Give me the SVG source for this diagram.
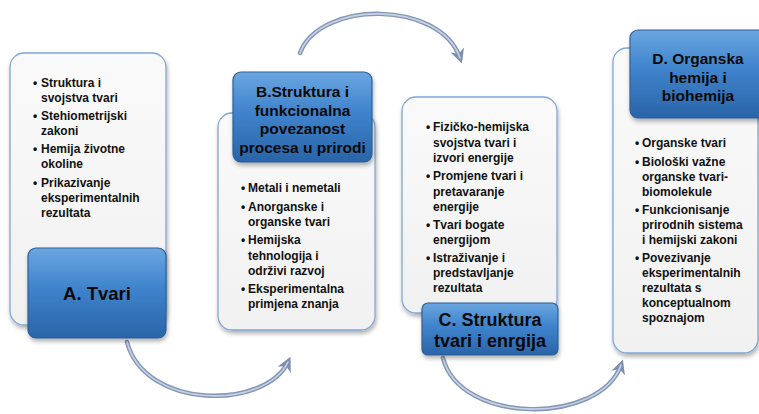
<svg xmlns="http://www.w3.org/2000/svg" width="759" height="414" viewBox="0 0 759 414">
<defs>
<linearGradient id="blue" x1="0" y1="0" x2="0" y2="1">
<stop offset="0" stop-color="#6aa6e0"/>
<stop offset="0.45" stop-color="#3f83cc"/>
<stop offset="1" stop-color="#2a64a8"/>
</linearGradient>
<linearGradient id="pale" x1="0" y1="0" x2="0" y2="1">
<stop offset="0" stop-color="#fafafa"/>
<stop offset="1" stop-color="#f1f1f1"/>
</linearGradient>
<filter id="sh" x="-10%" y="-10%" width="130%" height="130%">
<feDropShadow dx="1" dy="3" stdDeviation="2" flood-color="#000" flood-opacity="0.3"/>
</filter>
<marker id="ah" viewBox="0 0 10 10" refX="6" refY="5" markerWidth="3.2" markerHeight="3.2" orient="auto" markerUnits="strokeWidth">
<path d="M0,0 L10,5 L0,10 L3,5 Z" fill="#7d8fb0"/>
</marker>
</defs>
<style>
.panel{fill:url(#pale);stroke:#7fa7d6;stroke-width:1.3;filter:url(#sh)}
.title{fill:url(#blue);stroke:#2f5f97;stroke-width:1.2;filter:url(#sh)}
.t{font-family:"Liberation Sans",Arial,sans-serif;font-weight:bold;font-size:12px;fill:#111}
.h{font-family:"Liberation Sans",Arial,sans-serif;font-weight:bold;fill:#0a0a0a;text-anchor:middle}
.arc{fill:none;stroke:#8496b6;stroke-width:4.5;stroke-linecap:round}
.arcin{fill:none;stroke:#c9d3e6;stroke-width:1.6;stroke-linecap:round}
</style>
<g id="connectors">
<path class="arc" d="M300,53 C320,0 440,0 460,58" marker-end="url(#ah)"/>
<path class="arcin" d="M300,53 C320,0 440,0 460,58"/>
<path class="arc" d="M127,342 C145,410 265,410 288,362" marker-end="url(#ah)"/>
<path class="arcin" d="M127,342 C145,410 265,410 288,362"/>
<path class="arc" d="M443,358 C460,425 600,425 621,365" marker-end="url(#ah)"/>
<path class="arcin" d="M443,358 C460,425 600,425 621,365"/>
</g>
<g id="nodeA">
<rect class="panel" x="10" y="53" width="156" height="272" rx="14"/>
<rect class="title" x="28" y="248" width="138" height="90" rx="8"/>
<text class="h" x="97" y="300" font-size="18.5">A. Tvari</text>
<g class="t">
<text x="33" y="87">•</text><text x="41" y="87">Struktura i</text>
<text x="41" y="102">svojstva tvari</text>
<text x="33" y="120">•</text><text x="41" y="120">Stehiometrijski</text>
<text x="41" y="135">zakoni</text>
<text x="33" y="153">•</text><text x="41" y="153">Hemija životne</text>
<text x="41" y="168">okoline</text>
<text x="33" y="187">•</text><text x="41" y="187">Prikazivanje</text>
<text x="41" y="202">eksperimentalnih</text>
<text x="41" y="217">rezultata</text>
</g>
</g>
<g id="nodeB">
<rect class="panel" x="218" y="113" width="157" height="217" rx="14"/>
<rect class="title" x="233" y="72" width="139" height="90" rx="8"/>
<g class="h" font-size="15.5">
<text x="302.5" y="97">B.Struktura i</text>
<text x="302.5" y="116">funkcionalna</text>
<text x="302.5" y="134">povezanost</text>
<text x="302.5" y="153">procesa u prirodi</text>
</g>
<g class="t">
<text x="241" y="192">•</text><text x="248" y="192">Metali i nemetali</text>
<text x="241" y="211">•</text><text x="248" y="211">Anorganske i</text>
<text x="248" y="226">organske tvari</text>
<text x="241" y="244">•</text><text x="248" y="244">Hemijska</text>
<text x="248" y="259.5">tehnologija i</text>
<text x="248" y="275">održivi razvoj</text>
<text x="241" y="293">•</text><text x="248" y="293">Eksperimentalna</text>
<text x="248" y="308">primjena znanja</text>
</g>
</g>
<g id="nodeC">
<rect class="panel" x="402" y="97" width="155" height="216" rx="14"/>
<rect class="title" x="422" y="303" width="136" height="52" rx="6"/>
<g class="h" font-size="18">
<text x="490" y="326">C. Struktura</text>
<text x="490" y="347">tvari i enrgija</text>
</g>
<g class="t">
<text x="426" y="131">•</text><text x="433" y="131">Fizičko-hemijska</text>
<text x="433" y="147">svojstva tvari i</text>
<text x="433" y="162">izvori energije</text>
<text x="426" y="180">•</text><text x="433" y="180">Promjene tvari i</text>
<text x="433" y="196">pretavaranje</text>
<text x="433" y="211">energije</text>
<text x="426" y="229">•</text><text x="433" y="229">Tvari bogate</text>
<text x="433" y="244">energijom</text>
<text x="426" y="262">•</text><text x="433" y="262">Istraživanje i</text>
<text x="433" y="277">predstavljanje</text>
<text x="433" y="292">rezultata</text>
</g>
</g>
<g id="nodeD">
<rect class="panel" x="613" y="48" width="145" height="305" rx="14"/>
<rect class="title" x="630" y="30" width="140" height="88" rx="8"/>
<g class="h" font-size="15.5">
<text x="698" y="63.5">D. Organska</text>
<text x="698" y="82.5">hemija i</text>
<text x="698" y="101">biohemija</text>
</g>
<g class="t">
<text x="635" y="147">•</text><text x="642" y="147">Organske tvari</text>
<text x="635" y="166">•</text><text x="642" y="166">Biološki važne</text>
<text x="642" y="181">organske tvari-</text>
<text x="642" y="196">biomolekule</text>
<text x="635" y="214">•</text><text x="642" y="214">Funkcionisanje</text>
<text x="642" y="229">prirodnih sistema</text>
<text x="642" y="244">i hemijski zakoni</text>
<text x="635" y="262">•</text><text x="642" y="262">Povezivanje</text>
<text x="642" y="277">eksperimentalnih</text>
<text x="642" y="292">rezultata s</text>
<text x="642" y="307">konceptualnom</text>
<text x="642" y="322">spoznajom</text>
</g>
</g>
</svg>
